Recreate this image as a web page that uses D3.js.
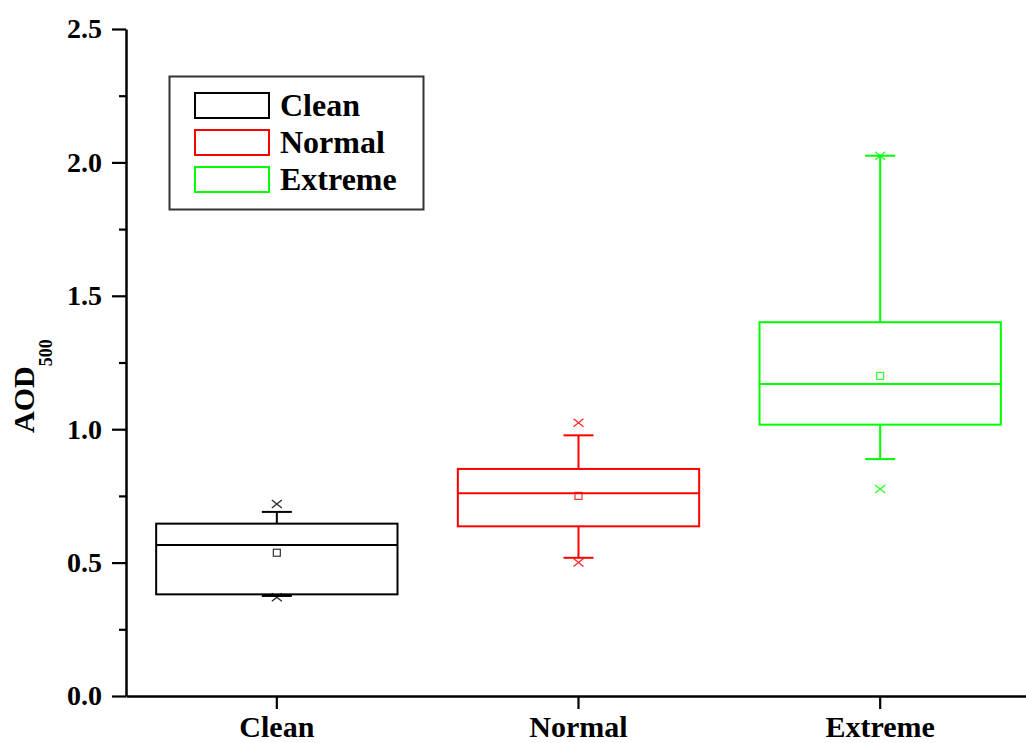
<!DOCTYPE html>
<html>
<head>
<meta charset="utf-8">
<script src="https://cdn.jsdelivr.net/npm/d3@7"></script>
<style>
  body { margin: 0; background: #fff; }
  text { font-family: "Liberation Serif", "Times New Roman", serif; font-weight: bold; }
</style>
</head>
<body>
<div id="chart"></div>
<script>
// values
var categories = ["Clean", "Normal", "Extreme"];
var q1 = [0.381, 0.636, 1.017];
var medians = [0.566, 0.760, 1.169];
var q3 = [0.646, 0.851, 1.401];
var whiskerLow = [0.375, 0.518, 0.888];
var whiskerHigh = [0.690, 0.977, 2.025];
var means = [0.537, 0.750, 1.200];
var minVals = [0.370, 0.500, 0.776];
var maxVals = [0.720, 1.024, 2.025];
var colors = ["#000000", "#ff0000", "#00ff00"];
var yTicks = [0, 0.5, 1.0, 1.5, 2.0, 2.5];
var yMinorTicks = [0.25, 0.75, 1.25, 1.75, 2.25];

var svgWidth = 1026, svgHeight = 743;
var margin = { top: 29, left: 126, bottom: 47 };
var plotBottom = svgHeight - margin.bottom;

var svg = d3.select("#chart").append("svg")
  .attr("width", svgWidth)
  .attr("height", svgHeight);

var x = d3.scaleBand()
  .domain(categories)
  .range([margin.left, 1031])
  .padding(0);

var y = d3.scaleLinear()
  .domain([0, 2.5])
  .range([plotBottom, margin.top]);

var data = categories.map(function (c, i) {
  return {
    name: c, q1: q1[i], med: medians[i], q3: q3[i],
    lo: whiskerLow[i], hi: whiskerHigh[i], mean: means[i],
    min: minVals[i], max: maxVals[i], color: colors[i]
  };
});

// minor ticks y
svg.append("g")
  .attr("transform", "translate(" + margin.left + ",0)")
  .call(d3.axisLeft(y).tickValues(yMinorTicks).tickSize(7).tickSizeOuter(0).tickFormat(""))
  .call(function (g) { g.select(".domain").remove(); })
  .selectAll("line").attr("stroke-width", 2.2);

// axis-y
var yAxis = svg.append("g")
  .attr("transform", "translate(" + margin.left + ",0)")
  .call(d3.axisLeft(y).tickValues(yTicks).tickFormat(d3.format(".1f")).tickSize(14).tickSizeOuter(0).tickPadding(10));
yAxis.select(".domain").attr("stroke-width", 2.5);
yAxis.selectAll("line").attr("stroke-width", 2.2);
yAxis.selectAll("text").attr("font-size", "28px").attr("fill", "#000");

// axis-x
var xAxis = svg.append("g")
  .attr("transform", "translate(0," + plotBottom + ")")
  .call(d3.axisBottom(x).tickSize(13).tickSizeOuter(0).tickPadding(7));
xAxis.select(".domain").attr("stroke-width", 2.5);
xAxis.selectAll("line").attr("stroke-width", 2.2);
xAxis.selectAll("text").attr("font-size", "30px").attr("fill", "#000");

// y label
var yLabel = svg.append("text")
  .attr("transform", "translate(34,433) rotate(-90)")
  .attr("font-size", "30px")
  .attr("fill", "#000");
yLabel.append("tspan").text("AOD");
yLabel.append("tspan").attr("font-size", "18px").attr("dy", 18).text("500");

var bw = x.bandwidth() * 0.8;
var cap = 15;

var box = svg.selectAll("g.box")
  .data(data)
  .enter().append("g")
  .attr("class", "box")
  .attr("fill", "none")
  .attr("stroke", function (d) { return d.color; });

function cx(d) { return x(d.name) + x.bandwidth() / 2; }

// whiskers
box.append("line")
  .attr("x1", cx).attr("x2", cx)
  .attr("y1", function (d) { return y(d.q3); })
  .attr("y2", function (d) { return y(d.hi); })
  .attr("stroke-width", 2);
box.append("line")
  .attr("x1", cx).attr("x2", cx)
  .attr("y1", function (d) { return y(d.q1); })
  .attr("y2", function (d) { return y(d.lo); })
  .attr("stroke-width", 2);
box.append("line")
  .attr("x1", function (d) { return cx(d) - cap; })
  .attr("x2", function (d) { return cx(d) + cap; })
  .attr("y1", function (d) { return y(d.hi); })
  .attr("y2", function (d) { return y(d.hi); })
  .attr("stroke-width", 2);
box.append("line")
  .attr("x1", function (d) { return cx(d) - cap; })
  .attr("x2", function (d) { return cx(d) + cap; })
  .attr("y1", function (d) { return y(d.lo); })
  .attr("y2", function (d) { return y(d.lo); })
  .attr("stroke-width", 2);

// box
box.append("rect")
  .attr("x", function (d) { return cx(d) - bw / 2; })
  .attr("y", function (d) { return y(d.q3); })
  .attr("width", bw)
  .attr("height", function (d) { return y(d.q1) - y(d.q3); })
  .attr("stroke-width", 2);

// median
box.append("line")
  .attr("x1", function (d) { return cx(d) - bw / 2; })
  .attr("x2", function (d) { return cx(d) + bw / 2; })
  .attr("y1", function (d) { return y(d.med); })
  .attr("y2", function (d) { return y(d.med); })
  .attr("stroke-width", 2);

// mean square
box.append("rect")
  .attr("x", function (d) { return cx(d) - 3.5; })
  .attr("y", function (d) { return y(d.mean) - 3.5; })
  .attr("width", 7).attr("height", 7)
  .attr("stroke-width", 1.2)
  .attr("opacity", 0.8);

// min / max crosses
function cross(g, key) {
  g.append("path")
    .attr("d", function (d) {
      var px = cx(d), py = y(d[key]);
      return "M" + (px - 5) + "," + (py - 4) + "L" + (px + 5) + "," + (py + 4) +
        "M" + (px - 5) + "," + (py + 4) + "L" + (px + 5) + "," + (py - 4);
    })
    .attr("stroke-width", 1.3)
    .attr("opacity", 0.85);
}
cross(box, "max");
cross(box, "min");

// legend
var legend = svg.append("g");
legend.append("rect")
  .attr("x", 169.5).attr("y", 76.5)
  .attr("width", 254).attr("height", 133)
  .attr("fill", "none").attr("stroke", "#333").attr("stroke-width", 2);

var item = legend.selectAll("g.item")
  .data(data)
  .enter().append("g")
  .attr("class", "item")
  .attr("transform", function (d, i) { return "translate(195," + (93 + i * 37) + ")"; });
item.append("rect")
  .attr("width", 74).attr("height", 25)
  .attr("fill", "none")
  .attr("stroke", function (d) { return d.color; })
  .attr("stroke-width", 2);
item.append("text")
  .attr("x", 85).attr("y", 23)
  .attr("font-size", "32px")
  .attr("fill", "#000")
  .text(function (d) { return d.name; });
</script>
</body>
</html>
